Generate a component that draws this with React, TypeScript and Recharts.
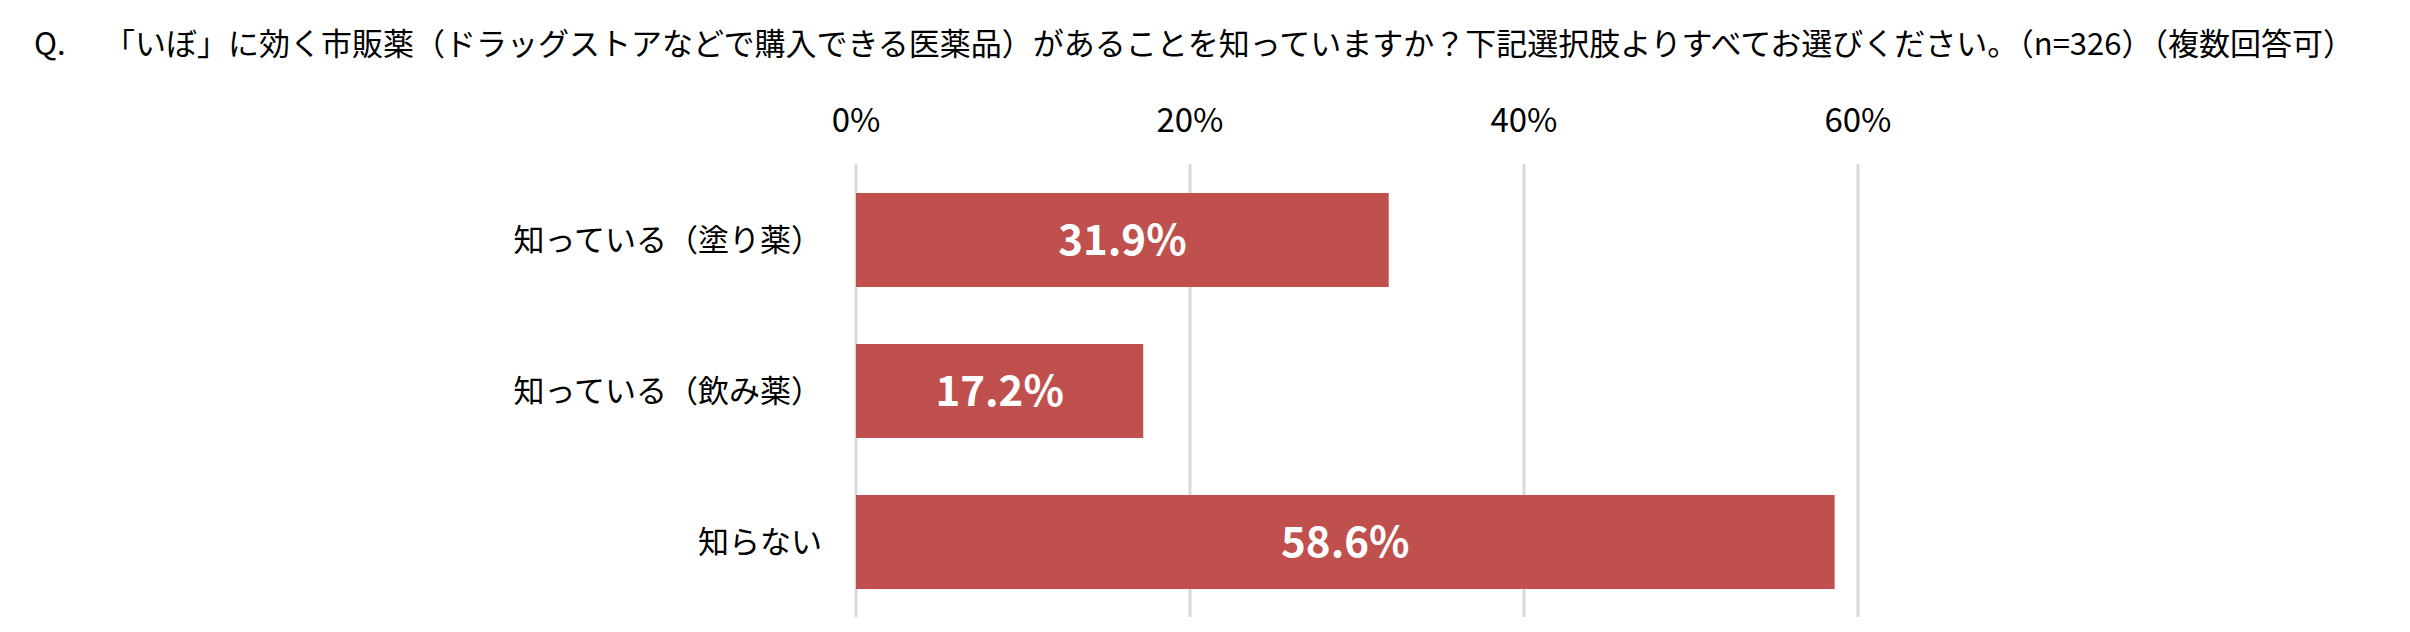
import React from 'react';
import { BarChart, Bar, XAxis, YAxis, CartesianGrid, LabelList } from 'recharts';

const TITLE_PREFIX = 'Q.';
const TITLE_TEXT =
  '「いぼ」に効く市販薬（ドラッグストアなどで購入できる医薬品）があることを知っていますか？下記選択肢よりすべてお選びください。（n=326）（複数回答可）';

const categories = ['知っている（塗り薬）', '知っている（飲み薬）', '知らない'];
const percentages = [31.9, 17.2, 58.6];
const axisTicks = [0, 20, 40, 60];

const FONT = '"Noto Sans CJK JP", "Noto Sans", sans-serif';
const BAR_COLOR = '#C0504D';

const data = categories.map((name, i) => ({ name, value: percentages[i] }));

const XTick = ({ x, y, payload }: any) => (
  <text x={x} y={y} textAnchor="middle" fontSize={33} fill="#000" fontFamily={FONT}>
    {`${payload.value}%`}
  </text>
);

const YTick = ({ x, y, payload }: any) => (
  <text x={x} y={y} dy="0.36em" textAnchor="end" fontSize={31} fill="#000" fontFamily={FONT}>
    {payload.value}
  </text>
);

const BarValue = (props: any) => {
  const { x, y, width, height, value } = props;
  return (
    <text
      x={x + width / 2}
      y={y + height / 2}
      dy="0.36em"
      textAnchor="middle"
      fontSize={42}
      fontWeight={700}
      fill="#fff"
      fontFamily={FONT}
    >
      {`${Number(value).toFixed(1)}%`}
    </text>
  );
};

export default function App() {
  return (
    <div
      style={{
        position: 'absolute',
        left: 0,
        top: 0,
        width: 2410,
        height: 632,
        background: '#fff',
        fontFamily: FONT,
      }}
    >
      <div style={{ position: 'absolute', left: 34, top: 26, fontSize: 31, lineHeight: '31px', whiteSpace: 'nowrap' }}>
        {TITLE_PREFIX}
      </div>
      <div style={{ position: 'absolute', left: 104, top: 26, fontSize: 31, lineHeight: '31px', whiteSpace: 'nowrap' }}>
        {TITLE_TEXT}
      </div>
      <div style={{ position: 'absolute', left: 0, top: 0 }}>
        <BarChart
          width={2410}
          height={632}
          data={data}
          layout="vertical"
          margin={{ top: 104, right: 552, bottom: 15, left: 0 }}
          barSize={94}
        >
          <CartesianGrid horizontal={false} stroke="#D9D9D9" strokeWidth={3} />
          <XAxis
            type="number"
            orientation="top"
            domain={[0, 60]}
            ticks={axisTicks}
            height={60}
            axisLine={false}
            tickLine={false}
            tickSize={0}
            tickMargin={32}
            tick={<XTick />}
            interval={0}
          />
          <YAxis
            type="category"
            dataKey="name"
            width={856}
            axisLine={false}
            tickLine={false}
            tickSize={0}
            tickMargin={34}
            tick={<YTick />}
            interval={0}
          />
          <Bar dataKey="value" fill={BAR_COLOR} isAnimationActive={false}>
            <LabelList dataKey="value" content={<BarValue />} />
          </Bar>
        </BarChart>
      </div>
    </div>
  );
}
